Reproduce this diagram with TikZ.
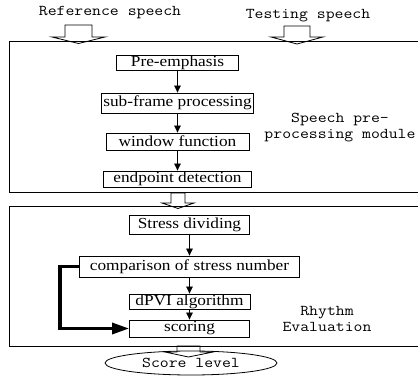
\documentclass[tikz,border=0pt]{standalone}
\usepackage{fontspec}
\setmainfont{Liberation Serif}[FakeStretch=1.13]
\newfontfamily\labelfont{Latin Modern Mono}[FakeStretch=1.15]
\usetikzlibrary{arrows.meta,shapes.geometric}

\begin{document}
\begin{tikzpicture}[x=1pt,y=-1pt,
    stage/.style={draw,line width=.8pt,inner sep=0pt,font=\fontsize{15.3}{15}\selectfont},
    note/.style={align=center,inner sep=0pt,font=\labelfont\fontsize{15}{15.5}\selectfont},
    flow/.style={-{Triangle[length=7pt,width=6.5pt]},line width=.7pt},
    hollow/.style={fill=white,draw=black,line width=.8pt,line join=miter}]
  \useasboundingbox (0,0) rectangle (418,377);
  % Inputs and the block arrows that feed the first module.
  \node[note] (refsp) at (110,13) {Reference speech};
  \node[note] (testsp) at (308,16) {Testing speech};
  \filldraw[hollow] (65,25) -- (92,25) -- (92,37) -- (105,37) -- (78.5,43.5) -- (52,37) -- (65,37) -- cycle;
  \filldraw[hollow] (284,26) -- (310,26) -- (310,37) -- (323,37) -- (297,44) -- (271,37) -- (284,37) -- cycle;
  \filldraw[hollow] (171,193) -- (185,193) -- (185,203) -- (194,203) -- (178,208.5) -- (162,203) -- (171,203) -- cycle;
  \filldraw[hollow] (177,346) -- (200,346) -- (200,352) -- (213,352) -- (188.5,357) -- (165,352) -- (177,352) -- cycle;
  % The two module frames run past the right edge.
  \draw[line width=1pt] (9,42) rectangle (421,193);
  \draw[line width=1pt] (9,207) rectangle (421,346);
  % Pre-processing chain.
  \node[stage,minimum width=122,minimum height=15] (pre) at (177.5,62.5) {Pre-emphasis};
  \node[stage,minimum width=152,minimum height=20] (frame) at (177.5,103) {sub-frame processing};
  \node[stage,minimum width=143,minimum height=17] (window) at (177.5,141.5) {window function};
  \node[stage,minimum width=148,minimum height=16] (endpt) at (177.5,179) {endpoint detection};
  \node[note] (premod) at (340,127.5) {Speech pre-\\processing module};
  \draw[flow] (pre) -- (frame);
  \draw[flow] (frame) -- (window);
  \draw[flow] (window) -- (endpt);
  % Rhythm evaluation chain.
  \node[stage,minimum width=120,minimum height=19] (stress) at (189.5,224.5) {Stress dividing};
  \node[stage,minimum width=220,minimum height=21] (compare) at (189.5,266.5) {comparison of stress number};
  \node[stage,minimum width=121,minimum height=15] (dpvi) at (189.5,301.5) {dPVI algorithm};
  \node[stage,minimum width=120,minimum height=17] (scoring) at (189.5,328.5) {scoring};
  \node[note] (rhythm) at (327,319) {Rhythm\\Evaluation};
  \draw[flow] (stress) -- (compare);
  \draw[flow] (compare) -- (dpvi);
  \draw[flow] (dpvi) -- (scoring);
  % Bypass straight from the stress count to the score.
  \coordinate (bypass) at (60,266.5);
  \draw[line width=3.2pt,-{Triangle[length=17pt,width=11pt]}] (compare.west) -- (bypass) |- (scoring.west);
  % Result.
  \node[ellipse,draw,line width=.8pt,minimum width=172,minimum height=24,inner sep=0pt,
        font=\labelfont\fontsize{15}{15}\selectfont] (result) at (191,363) {Score level};
\end{tikzpicture}
\end{document}
